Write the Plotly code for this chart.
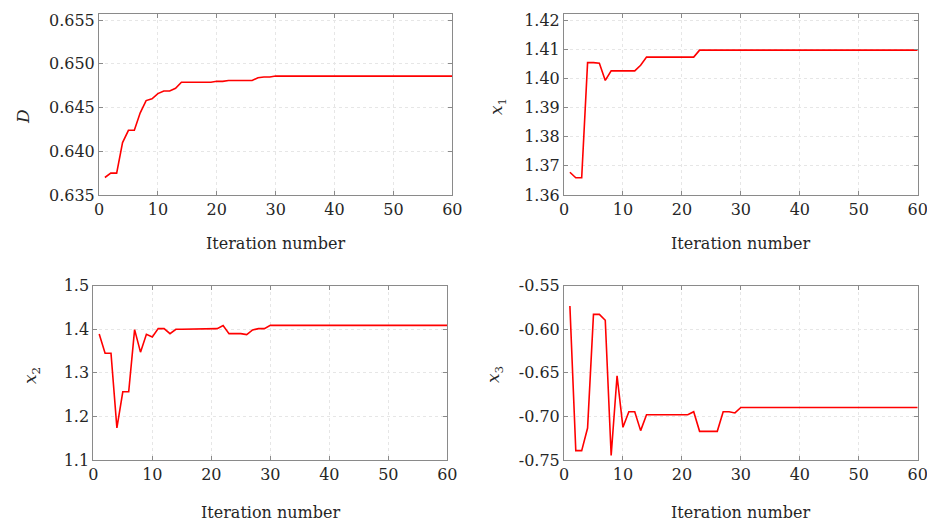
import plotly.graph_objects as go

iterations = list(range(1, 61))

D_vals = [0.6370, 0.6375, 0.6375, 0.6410, 0.6424, 0.6424, 0.6444, 0.6458, 0.6460, 0.6466,
          0.6469, 0.6469, 0.6472, 0.6479, 0.6479, 0.6479, 0.6479, 0.6479, 0.6479, 0.6480,
          0.6480, 0.6481, 0.6481, 0.6481, 0.6481, 0.6481, 0.6484, 0.6485, 0.6485, 0.6486,
          0.6486, 0.6486, 0.6486, 0.6486, 0.6486, 0.6486, 0.6486, 0.6486, 0.6486, 0.6486,
          0.6486, 0.6486, 0.6486, 0.6486, 0.6486, 0.6486, 0.6486, 0.6486, 0.6486, 0.6486,
          0.6486, 0.6486, 0.6486, 0.6486, 0.6486, 0.6486, 0.6486, 0.6486, 0.6486, 0.6486]

x1_vals = [1.3678, 1.3659, 1.3659, 1.4054, 1.4054, 1.4052, 1.3993, 1.4026, 1.4026, 1.4026,
           1.4026, 1.4026, 1.4045, 1.4073, 1.4073, 1.4073, 1.4073, 1.4073, 1.4073, 1.4073,
           1.4073, 1.4073, 1.4097, 1.4097, 1.4097, 1.4097, 1.4097, 1.4097, 1.4097, 1.4097,
           1.4097, 1.4097, 1.4097, 1.4097, 1.4097, 1.4097, 1.4097, 1.4097, 1.4097, 1.4097,
           1.4097, 1.4097, 1.4097, 1.4097, 1.4097, 1.4097, 1.4097, 1.4097, 1.4097, 1.4097,
           1.4097, 1.4097, 1.4097, 1.4097, 1.4097, 1.4097, 1.4097, 1.4097, 1.4097, 1.4097]

x2_vals = [1.389, 1.345, 1.345, 1.1735, 1.2566, 1.2566, 1.3993, 1.3475, 1.3886, 1.3825,
           1.4015, 1.4015, 1.390, 1.400, 1.400, 1.400, 1.400, 1.400, 1.400, 1.4015,
           1.4015, 1.4084, 1.390, 1.390, 1.390, 1.3878, 1.3985, 1.4015, 1.4015, 1.409,
           1.409, 1.409, 1.409, 1.409, 1.409, 1.409, 1.409, 1.409, 1.409, 1.409,
           1.409, 1.409, 1.409, 1.409, 1.409, 1.409, 1.409, 1.409, 1.409, 1.409,
           1.409, 1.409, 1.409, 1.409, 1.409, 1.409, 1.409, 1.409, 1.409, 1.409]

x3_vals = [-0.5734, -0.7392, -0.7392, -0.7133, -0.5829, -0.5829, -0.5897, -0.7449, -0.6533, -0.7125,
           -0.6946, -0.6946, -0.7163, -0.698, -0.698, -0.698, -0.698, -0.698, -0.698, -0.698,
           -0.698, -0.6946, -0.7171, -0.7171, -0.7171, -0.7171, -0.6946, -0.6946, -0.696, -0.6897,
           -0.6897, -0.6897, -0.6897, -0.6897, -0.6897, -0.6897, -0.6897, -0.6897, -0.6897, -0.6897,
           -0.6897, -0.6897, -0.6897, -0.6897, -0.6897, -0.6897, -0.6897, -0.6897, -0.6897, -0.6897,
           -0.6897, -0.6897, -0.6897, -0.6897, -0.6897, -0.6897, -0.6897, -0.6897, -0.6897, -0.6897]

x_ticks = [0, 10, 20, 30, 40, 50, 60]
D_ticks = [0.635, 0.640, 0.645, 0.650, 0.655]
D_ticktext = ["0.635", "0.640", "0.645", "0.650", "0.655"]
x1_ticks = [1.36, 1.37, 1.38, 1.39, 1.40, 1.41, 1.42]
x1_ticktext = ["1.36", "1.37", "1.38", "1.39", "1.40", "1.41", "1.42"]
x2_ticks = [1.1, 1.2, 1.3, 1.4, 1.5]
x2_ticktext = ["1.1", "1.2", "1.3", "1.4", "1.5"]
x3_ticks = [-0.75, -0.70, -0.65, -0.60, -0.55]
x3_ticktext = ["-0.75", "-0.70", "-0.65", "-0.60", "-0.55"]

x_title = "Iteration number"
y_titles = ["<i>D</i>", "<i>x</i><sub>1</sub>", "<i>x</i><sub>2</sub>", "<i>x</i><sub>3</sub>"]

W, H = 927, 523
FONT = "DejaVu Serif"
FRAME = "#8a8a8a"
GRID = "#e6e6e6"

fig = go.Figure()
series = [D_vals, x1_vals, x2_vals, x3_vals]
for i, s in enumerate(series):
    fig.add_trace(go.Scatter(x=iterations, y=s, mode="lines",
                             line=dict(color="#ff0000", width=1.6),
                             xaxis="x" if i == 0 else f"x{i+1}",
                             yaxis="y" if i == 0 else f"y{i+1}",
                             showlegend=False, hoverinfo="skip"))

# pixel boxes: (left, right, top, bottom)
boxes = [(99, 452.3, 14, 195), (564, 917.7, 14, 195),
         (93.3, 447.3, 285.7, 460), (564, 917.7, 285.7, 460)]
yranges = [[0.635, 0.6557], [1.36, 1.4221], [1.1, 1.5], [-0.75, -0.55]]
yticks = [(D_ticks, D_ticktext), (x1_ticks, x1_ticktext), (x2_ticks, x2_ticktext), (x3_ticks, x3_ticktext)]

common = dict(showline=True, linecolor=FRAME, linewidth=1, mirror="ticks",
              ticks="inside", ticklen=4, tickcolor=FRAME, tickwidth=1,
              showgrid=True, gridcolor=GRID, griddash="dot", gridwidth=1,
              zeroline=False, automargin=False, ticklabeloverflow="allow",
              tickfont=dict(family=FONT, size=16, color="#262626"))

layout = dict(width=W, height=H, margin=dict(l=0, r=0, t=0, b=0, pad=0),
              paper_bgcolor="white", plot_bgcolor="white")
for i, (l, r, t, b) in enumerate(boxes):
    xn = "xaxis" if i == 0 else f"xaxis{i+1}"
    yn = "yaxis" if i == 0 else f"yaxis{i+1}"
    xa = "x" if i == 0 else f"x{i+1}"
    ya = "y" if i == 0 else f"y{i+1}"
    layout[xn] = dict(domain=[l / W, r / W], range=[0, 60], anchor=ya,
                      tickvals=x_ticks, **common)
    layout[yn] = dict(domain=[1 - b / H, 1 - t / H], range=yranges[i], anchor=xa,
                      tickvals=yticks[i][0], ticktext=yticks[i][1], **common)
fig.update_layout(**layout)

annos = []
title_y = [243, 243, 512, 512]
for i, (l, r, t, b) in enumerate(boxes):
    annos.append(dict(text=x_title, x=(l + r) / 2 / W, y=1 - title_y[i] / H,
                      xref="paper", yref="paper", showarrow=False,
                      xanchor="center", yanchor="middle",
                      font=dict(family=FONT, size=16, color="#262626")))
ylab_pos = [(23, 117), (498, 106), (31, 376), (494, 374)]
for i, (px, py) in enumerate(ylab_pos):
    annos.append(dict(text=y_titles[i], x=px / W, y=1 - py / H,
                      xref="paper", yref="paper", showarrow=False, textangle=-90,
                      xanchor="center", yanchor="middle",
                      font=dict(family=FONT, size=17, color="#262626")))
fig.update_layout(annotations=annos)

fig.write_html("out.html", config={"displayModeBar": False},
               post_script="document.body.style.margin='0';document.body.style.overflow='hidden';")
